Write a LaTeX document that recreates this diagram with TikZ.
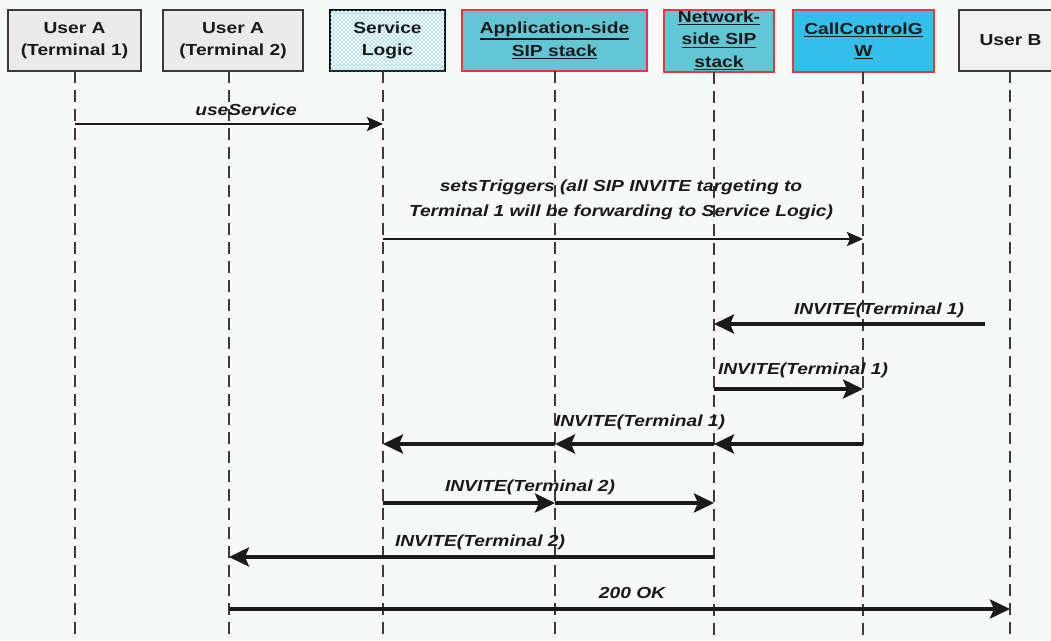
\documentclass[tikz,border=0pt]{standalone}
\usepackage{fontspec}
\setmainfont{Liberation Sans}[FakeStretch=1.2]
\usetikzlibrary{arrows.meta,patterns}

\definecolor{pagebg}{HTML}{F7F8F8}
\definecolor{ink}{HTML}{1A1A1A}
\definecolor{edge}{HTML}{3A3A3A}
\definecolor{greybox}{HTML}{EBEBEB}
\definecolor{paleBox}{HTML}{F1F1F1}
\definecolor{tealbox}{HTML}{63C6D5}
\definecolor{skybox}{HTML}{33BFEA}
\definecolor{redline}{HTML}{E03A3A}
\definecolor{dotcyan}{HTML}{5CC8DA}

% staggered dot texture for the Service Logic box
\pgfdeclarepatternformonly{logicdots}{\pgfqpoint{-1pt}{-1pt}}{\pgfqpoint{5pt}{5pt}}{\pgfqpoint{4pt}{4pt}}{
  \pgfpathcircle{\pgfqpoint{0pt}{0pt}}{0.85pt}
  \pgfpathcircle{\pgfqpoint{2pt}{2pt}}{0.85pt}
  \pgfusepath{fill}
}

% underlined header text, thick rule as in a hyperlink
\newcommand\hdrul[1]{\setbox0=\hbox{#1}\vtop{\copy0\kern1.6pt\hrule height1.3pt}}

\tikzset{
  hdr/.style={draw=edge, line width=1.3pt, minimum height=61pt, inner sep=0pt,
    align=center, text=ink, font=\fontsize{16}{22.5}\selectfont\bfseries},
  lifeline/.style={draw=edge, line width=1.3pt, dash pattern=on 12pt off 7pt},
  thinmsg/.style={draw=ink, line width=2pt,
    -{Stealth[length=16pt,width=14pt,inset=3pt]}},
  thickmsg/.style={draw=ink, line width=3.8pt,
    -{Stealth[length=20pt,width=19pt,inset=4pt]}},
  lbl/.style={inner sep=0pt, text=ink, align=center,
    font=\fontsize{16}{25}\selectfont\bfseries\itshape},
}

\begin{document}
\begin{tikzpicture}[x=1pt,y=-1pt]
\useasboundingbox (0,0) rectangle (1051,640);
\fill[pagebg] (0,0) rectangle (1051,640);

\begin{scope}
\clip (0,0) rectangle (1051,640);
% header boxes
\node[hdr, fill=greybox, minimum width=133pt] (ua1) at (74.5,40.5) {User A\\(Terminal 1)};
\node[hdr, fill=greybox, minimum width=140pt] (ua2) at (233,40.5) {User A\\(Terminal 2)};
\node[hdr, draw=black, fill=white, minimum width=115pt,
      postaction={pattern=logicdots, pattern color=dotcyan}] (sl) at (387.5,40.5) {};
\node[hdr, draw=none] (sltxt) at (sl.center) {Service\\Logic};
\node[hdr, draw=redline, fill=tealbox, minimum width=185pt] (app) at (554.5,40.5)
  {\hdrul{Application-side}\\\hdrul{SIP stack}};
\node[hdr, draw=redline, fill=tealbox, minimum width=110pt, minimum height=62pt] (net) at (719,41) {};
\node[hdr, draw=none] (nettxt) at (719,40.5)
  {\hdrul{Network-}\\\hdrul{side SIP}\\\hdrul{stack}};
\node[hdr, draw=redline, fill=skybox, minimum width=141pt, minimum height=62pt] (ccg) at (863.5,41)
  {\hdrul{CallControlG}\\\hdrul{W}};
\node[hdr, fill=paleBox, minimum width=103pt] (ub) at (1010.5,40.5) {User B};
\end{scope}

% lifeline anchors
\coordinate (L1) at (75,71);   \coordinate (L1b) at (75,640);
\coordinate (L2) at (229,71);  \coordinate (L2b) at (229,640);
\coordinate (L3) at (383,71);  \coordinate (L3b) at (383,640);
\coordinate (L4) at (555,71);  \coordinate (L4b) at (555,640);
\coordinate (L5) at (714,72);  \coordinate (L5b) at (714,640);
\coordinate (L6) at (863,72);  \coordinate (L6b) at (863,640);
\coordinate (L7) at (1010,71); \coordinate (L7b) at (1010,640);
\foreach \i in {1,...,7} \draw[lifeline] (L\i) -- (L\i b);

% loose start of the incoming INVITE
\coordinate (inv0) at (985,324);

% messages
\draw[thinmsg] (L1 |- 0,124) -- (L3 |- 0,124);
\node[lbl] (m1) at (246,110) {useService};

\draw[thinmsg] (L3 |- 0,239) -- (L6 |- 0,239);
\node[lbl] (m2) at (621,200) {setsTriggers (all SIP INVITE targeting to\\Terminal 1 will be forwarding to Service Logic)};

\draw[thickmsg] (inv0) -- (L5 |- 0,324);
\node[lbl] (m3) at (879,310) {INVITE(Terminal 1)};

\draw[thickmsg] (L5 |- 0,389) -- (L6 |- 0,389);
\node[lbl] (m4) at (803,370) {INVITE(Terminal 1)};

\draw[thickmsg] (L6 |- 0,444) -- (L5 |- 0,444);
\draw[thickmsg] (L5 |- 0,444) -- (L4 |- 0,444);
\draw[thickmsg] (L4 |- 0,444) -- (L3 |- 0,444);
\node[lbl] (m5) at (640,422) {INVITE(Terminal 1)};

\draw[thickmsg] (L3 |- 0,503) -- (L4 |- 0,503);
\draw[thickmsg] (L4 |- 0,503) -- (L5 |- 0,503);
\node[lbl] (m6) at (530,487) {INVITE(Terminal 2)};

\draw[thickmsg] (L5 |- 0,557) -- (L2 |- 0,557);
\node[lbl] (m7) at (480,542) {INVITE(Terminal 2)};

\draw[thickmsg] (L2 |- 0,609) -- (L7 |- 0,609);
\node[lbl] (m8) at (632,593) {200 OK};
\end{tikzpicture}
\end{document}
